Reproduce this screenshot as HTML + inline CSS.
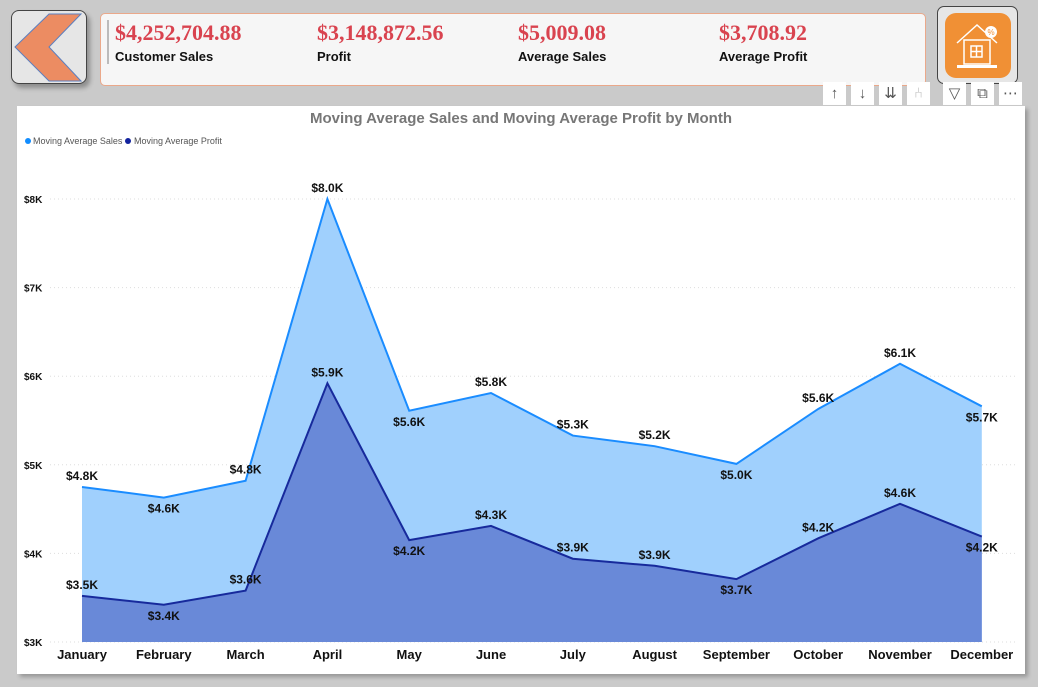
<!DOCTYPE html>
<html><head><meta charset="utf-8"><style>
body{margin:0;width:1038px;height:687px;background:#cacaca;font-family:"Liberation Sans","DejaVu Sans",sans-serif;position:relative;overflow:hidden}
.abs{position:absolute}
.kpi-v{font-family:"Liberation Serif",serif;font-weight:bold;color:#d9434f;font-size:22px;position:absolute;top:6px}
.kpi-l{font-weight:bold;font-size:13px;color:#111;position:absolute;top:35px}
.tb{position:absolute;top:82px;width:23px;height:23px;background:#fff;color:#555;font-size:15px;text-align:center;line-height:23px}
</style></head><body>
<div class="abs" style="left:11px;top:10px;width:74px;height:72px;background:#e6e6e6;border:1px solid #444;border-radius:8px;box-shadow:3px 4px 5px rgba(0,0,0,.3)">
<svg width="74" height="72"><polygon points="3,36 37,3 69,3 37,36 69,70 37,70" fill="#ec8c62" stroke="#5b7fc0" stroke-width="1"/></svg></div>
<div class="abs" style="left:100px;top:13px;width:824px;height:71px;background:#f6f6f6;border:1px solid #eaa88a;border-radius:5px">
<div class="abs" style="left:6px;top:6px;width:2px;height:44px;background:#bbb"></div>
<div class="kpi-v" style="left:14px">$4,252,704.88</div><div class="kpi-l" style="left:14px">Customer Sales</div>
<div class="kpi-v" style="left:216px">$3,148,872.56</div><div class="kpi-l" style="left:216px">Profit</div>
<div class="kpi-v" style="left:417px">$5,009.08</div><div class="kpi-l" style="left:417px">Average Sales</div>
<div class="kpi-v" style="left:618px">$3,708.92</div><div class="kpi-l" style="left:618px">Average Profit</div>
</div>
<div class="abs" style="left:937px;top:6px;width:79px;height:76px;background:#e6e6e6;border:1px solid #444;border-radius:7px">
<div class="abs" style="left:7px;top:6px;width:66px;height:65px;background:#f09035;border-radius:11px">
<svg width="66" height="65"><g fill="none" stroke="#fff" stroke-width="1.5"><polyline points="12,30 32,12 52,30"/><rect x="19" y="27" width="26" height="24"/><rect x="26" y="33" width="11" height="11"/><line x1="31.5" y1="33" x2="31.5" y2="44"/><line x1="26" y1="38.5" x2="37" y2="38.5"/></g><rect x="12" y="52" width="40" height="3" fill="#fff"/><circle cx="46" cy="19" r="6" fill="#fff"/><text x="46" y="22" font-size="8" text-anchor="middle" fill="#f09035">%</text></svg></div></div>
<div class="tb" style="left:823px">↑</div>
<div class="tb" style="left:851px">↓</div>
<div class="tb" style="left:879px">⇊</div>
<div class="tb" style="left:907px;color:#bbb">⑃</div>
<div class="tb" style="left:943px">▽</div>
<div class="tb" style="left:971px">⧉</div>
<div class="tb" style="left:999px">⋯</div>
<div class="abs" style="left:17px;top:106px;width:1008px;height:568px;background:#fff;box-shadow:3px 3px 4px rgba(0,0,0,.25)"></div>
<svg class="abs" style="left:0;top:0" width="1038" height="687" id="chart">
<text x="521" y="123" font-size="15" font-weight="bold" fill="#777" text-anchor="middle">Moving Average Sales and Moving Average Profit by Month</text>
<g font-size="9" fill="#555">
<circle cx="28" cy="141" r="3" fill="#118dff"/><text x="33" y="144">Moving Average Sales</text>
<circle cx="128" cy="141" r="3" fill="#12239e"/><text x="134" y="144">Moving Average Profit</text></g>
<g id="grid"></g><g id="areas"></g><g id="labels"></g>
</svg>
<script>
const months=["January","February","March","April","May","June","July","August","September","October","November","December"];
const sales=[4.75,4.63,4.82,8.0,5.61,5.81,5.33,5.21,5.01,5.63,6.14,5.66];
const profit=[3.52,3.42,3.58,5.92,4.15,4.31,3.94,3.86,3.71,4.17,4.56,4.19];
const yTicks=[3,4,5,6,7,8];
const salesLabelSide=[-1,1,-1,-1,1,-1,-1,-1,1,-1,-1,1];
const profitLabelSide=[-1,1,-1,-1,1,-1,-1,-1,1,-1,-1,1];
const NS="http://www.w3.org/2000/svg";
function x(i){return 82+i*81.8;}
function y(v){return 642-(v-3)*88.6;}
function mk(tag,attrs,parent){const e=document.createElementNS(NS,tag);for(const k in attrs)e.setAttribute(k,attrs[k]);parent.appendChild(e);return e;}
const grid=document.getElementById('grid'),areas=document.getElementById('areas'),labels=document.getElementById('labels');
yTicks.forEach(t=>{
 const l=mk('line',{x1:50,x2:1015,y1:y(t),y2:y(t),stroke:'#ddd','stroke-dasharray':'1,3'},grid);
 
 
 const tx=mk('text',{x:24,y:y(t)+4,'font-size':10,'font-weight':'bold',fill:'#111'},grid);tx.textContent='$'+t+'K';
 
 
});
months.forEach((m,i)=>{
 const tx=mk('text',{x:x(i),y:659,'font-size':13,'font-weight':'bold',fill:'#111','text-anchor':'middle'},grid);tx.textContent=m;
 
 
});
function area(vals,fill,stroke,name){
 let pts=vals.map((v,i)=>x(i)+','+y(v)).join(' ');
 const p=mk('polygon',{points:x(0)+','+y(3)+' '+pts+' '+x(vals.length-1)+','+y(3),fill:fill},areas);
 
 
 const l=mk('polyline',{points:pts,fill:'none',stroke:stroke,'stroke-width':2},areas);
 
 
}
area(sales,'#a0d0fd','#1a8cff','sales');
area(profit,'#6989d8','#172a9c','profit');
function lab(vals,side,name){
 vals.forEach((v,i)=>{
  const t=mk('text',{x:x(i),y:y(v)+(side[i]<0?-7:15),'font-size':12,'font-weight':'bold',fill:'#111','text-anchor':'middle'},labels);
  t.textContent='$'+v.toFixed(1)+'K';
  
  
 });
}
lab(sales,salesLabelSide,'sales');
lab(profit,profitLabelSide,'profit');
</script>
</body></html>
